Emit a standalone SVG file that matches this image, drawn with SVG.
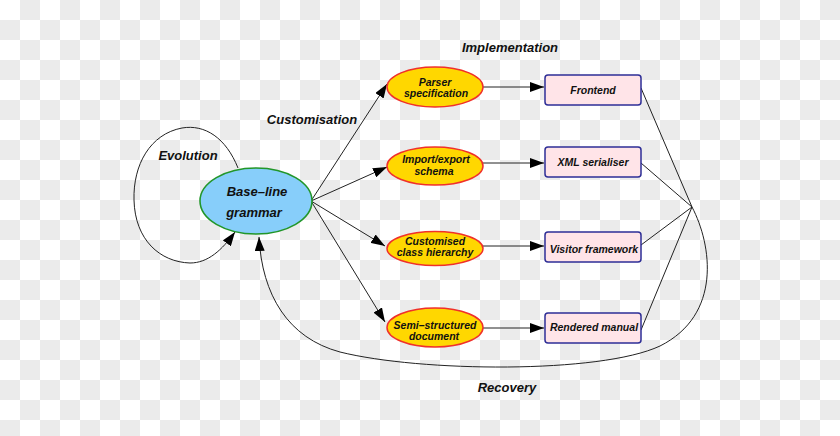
<svg xmlns="http://www.w3.org/2000/svg" width="840" height="436" viewBox="0 0 840 436">
<defs>
<pattern id="chk" x="0" y="0" width="40" height="40" patternUnits="userSpaceOnUse">
<rect width="40" height="40" fill="#ffffff"/>
<rect x="20" y="0" width="20" height="20" fill="#ebebeb"/>
<rect x="0" y="20" width="20" height="20" fill="#ebebeb"/>
</pattern>
<marker id="ah" viewBox="0 0 14 10" refX="14" refY="5" markerWidth="14" markerHeight="10" orient="auto" markerUnits="userSpaceOnUse">
<path d="M0,0 L14,5 L0,10 z" fill="#000"/>
</marker>
<style>
text{font-family:"Liberation Sans",Arial,sans-serif;font-weight:bold;font-style:italic;fill:#111;text-anchor:middle}
.n{font-size:10.5px}
.b{font-size:13px}
.lbl{font-size:13px}
.blue{fill:#87cefa;stroke:#22962a;stroke-width:1.6}
.yel{fill:#ffd700;stroke:#f0302a;stroke-width:1.5}
.box{fill:#ffe4e8;stroke:#2e2e96;stroke-width:1.5}
.e{fill:none;stroke:#222;stroke-width:1}
.a{fill:none;stroke:#222;stroke-width:1;marker-end:url(#ah)}
</style>
</defs>
<rect width="840" height="436" fill="url(#chk)"/>

<g id="connectors">
<path class="a" d="M238,168 C226,138 205,124 182,128 C150,134 133,165 134,200 C135,240 160,262 190,263 C208,263 222,250 235,232"/>
<line class="a" x1="311" y1="201" x2="387" y2="84"/>
<line class="a" x1="311" y1="201" x2="387" y2="167"/>
<line class="a" x1="311" y1="201" x2="385" y2="246"/>
<line class="a" x1="311" y1="201" x2="385" y2="322"/>
<line class="a" x1="483" y1="87" x2="544" y2="87"/>
<line class="a" x1="483" y1="163" x2="544" y2="163"/>
<line class="a" x1="483" y1="246" x2="544" y2="246"/>
<line class="a" x1="483" y1="328" x2="544" y2="328"/>
<line class="e" x1="641" y1="88" x2="692" y2="207"/>
<line class="e" x1="641" y1="163" x2="692" y2="207"/>
<line class="e" x1="641" y1="245" x2="692" y2="207"/>
<line class="e" x1="641" y1="330" x2="692" y2="207"/>
<path class="a" d="M692,207 C712,245 722,315 660,346 C600,374 420,372 340,352 C288,338 262,295 259,237"/>
</g>

<g id="labels">
<text class="lbl" x="188" y="160">Evolution</text>
<text class="lbl" x="312" y="124">Customisation</text>
<text class="lbl" x="510" y="52">Implementation</text>
<text class="lbl" x="507" y="392">Recovery</text>
</g>

<g id="baseline">
<ellipse class="blue" cx="256" cy="201" rx="56" ry="33"/>
<text class="b" x="257" y="196">Base–line</text>
<text class="b" x="254" y="217">grammar</text>
</g>

<g id="parser">
<ellipse class="yel" cx="435" cy="87" rx="48" ry="20"/>
<text class="n" x="435" y="85.5">Parser</text>
<text class="n" x="436" y="96.5">specification</text>
</g>
<g id="importexport">
<ellipse class="yel" cx="435" cy="166" rx="48" ry="19"/>
<text class="n" x="436" y="162.5">Import/export</text>
<text class="n" x="434" y="175">schema</text>
</g>
<g id="customised">
<ellipse class="yel" cx="435" cy="248.5" rx="48" ry="17"/>
<text class="n" x="435" y="245">Customised</text>
<text class="n" x="435" y="255.5">class hierarchy</text>
</g>
<g id="semistructured">
<ellipse class="yel" cx="435" cy="327.5" rx="48" ry="19.5"/>
<text class="n" x="435" y="329">Semi–structured</text>
<text class="n" x="434" y="340">document</text>
</g>

<g id="frontend">
<rect class="box" x="545" y="75" width="96" height="30" rx="3"/>
<text class="n" x="593" y="94">Frontend</text>
</g>
<g id="xmlserialiser">
<rect class="box" x="545" y="147" width="96" height="30" rx="3"/>
<text class="n" x="593" y="166">XML serialiser</text>
</g>
<g id="visitor">
<rect class="box" x="545" y="232" width="96" height="30" rx="3"/>
<text class="n" x="594" y="253">Visitor framework</text>
</g>
<g id="rendered">
<rect class="box" x="545" y="313" width="96" height="30" rx="3"/>
<text class="n" x="594" y="331">Rendered manual</text>
</g>
</svg>
